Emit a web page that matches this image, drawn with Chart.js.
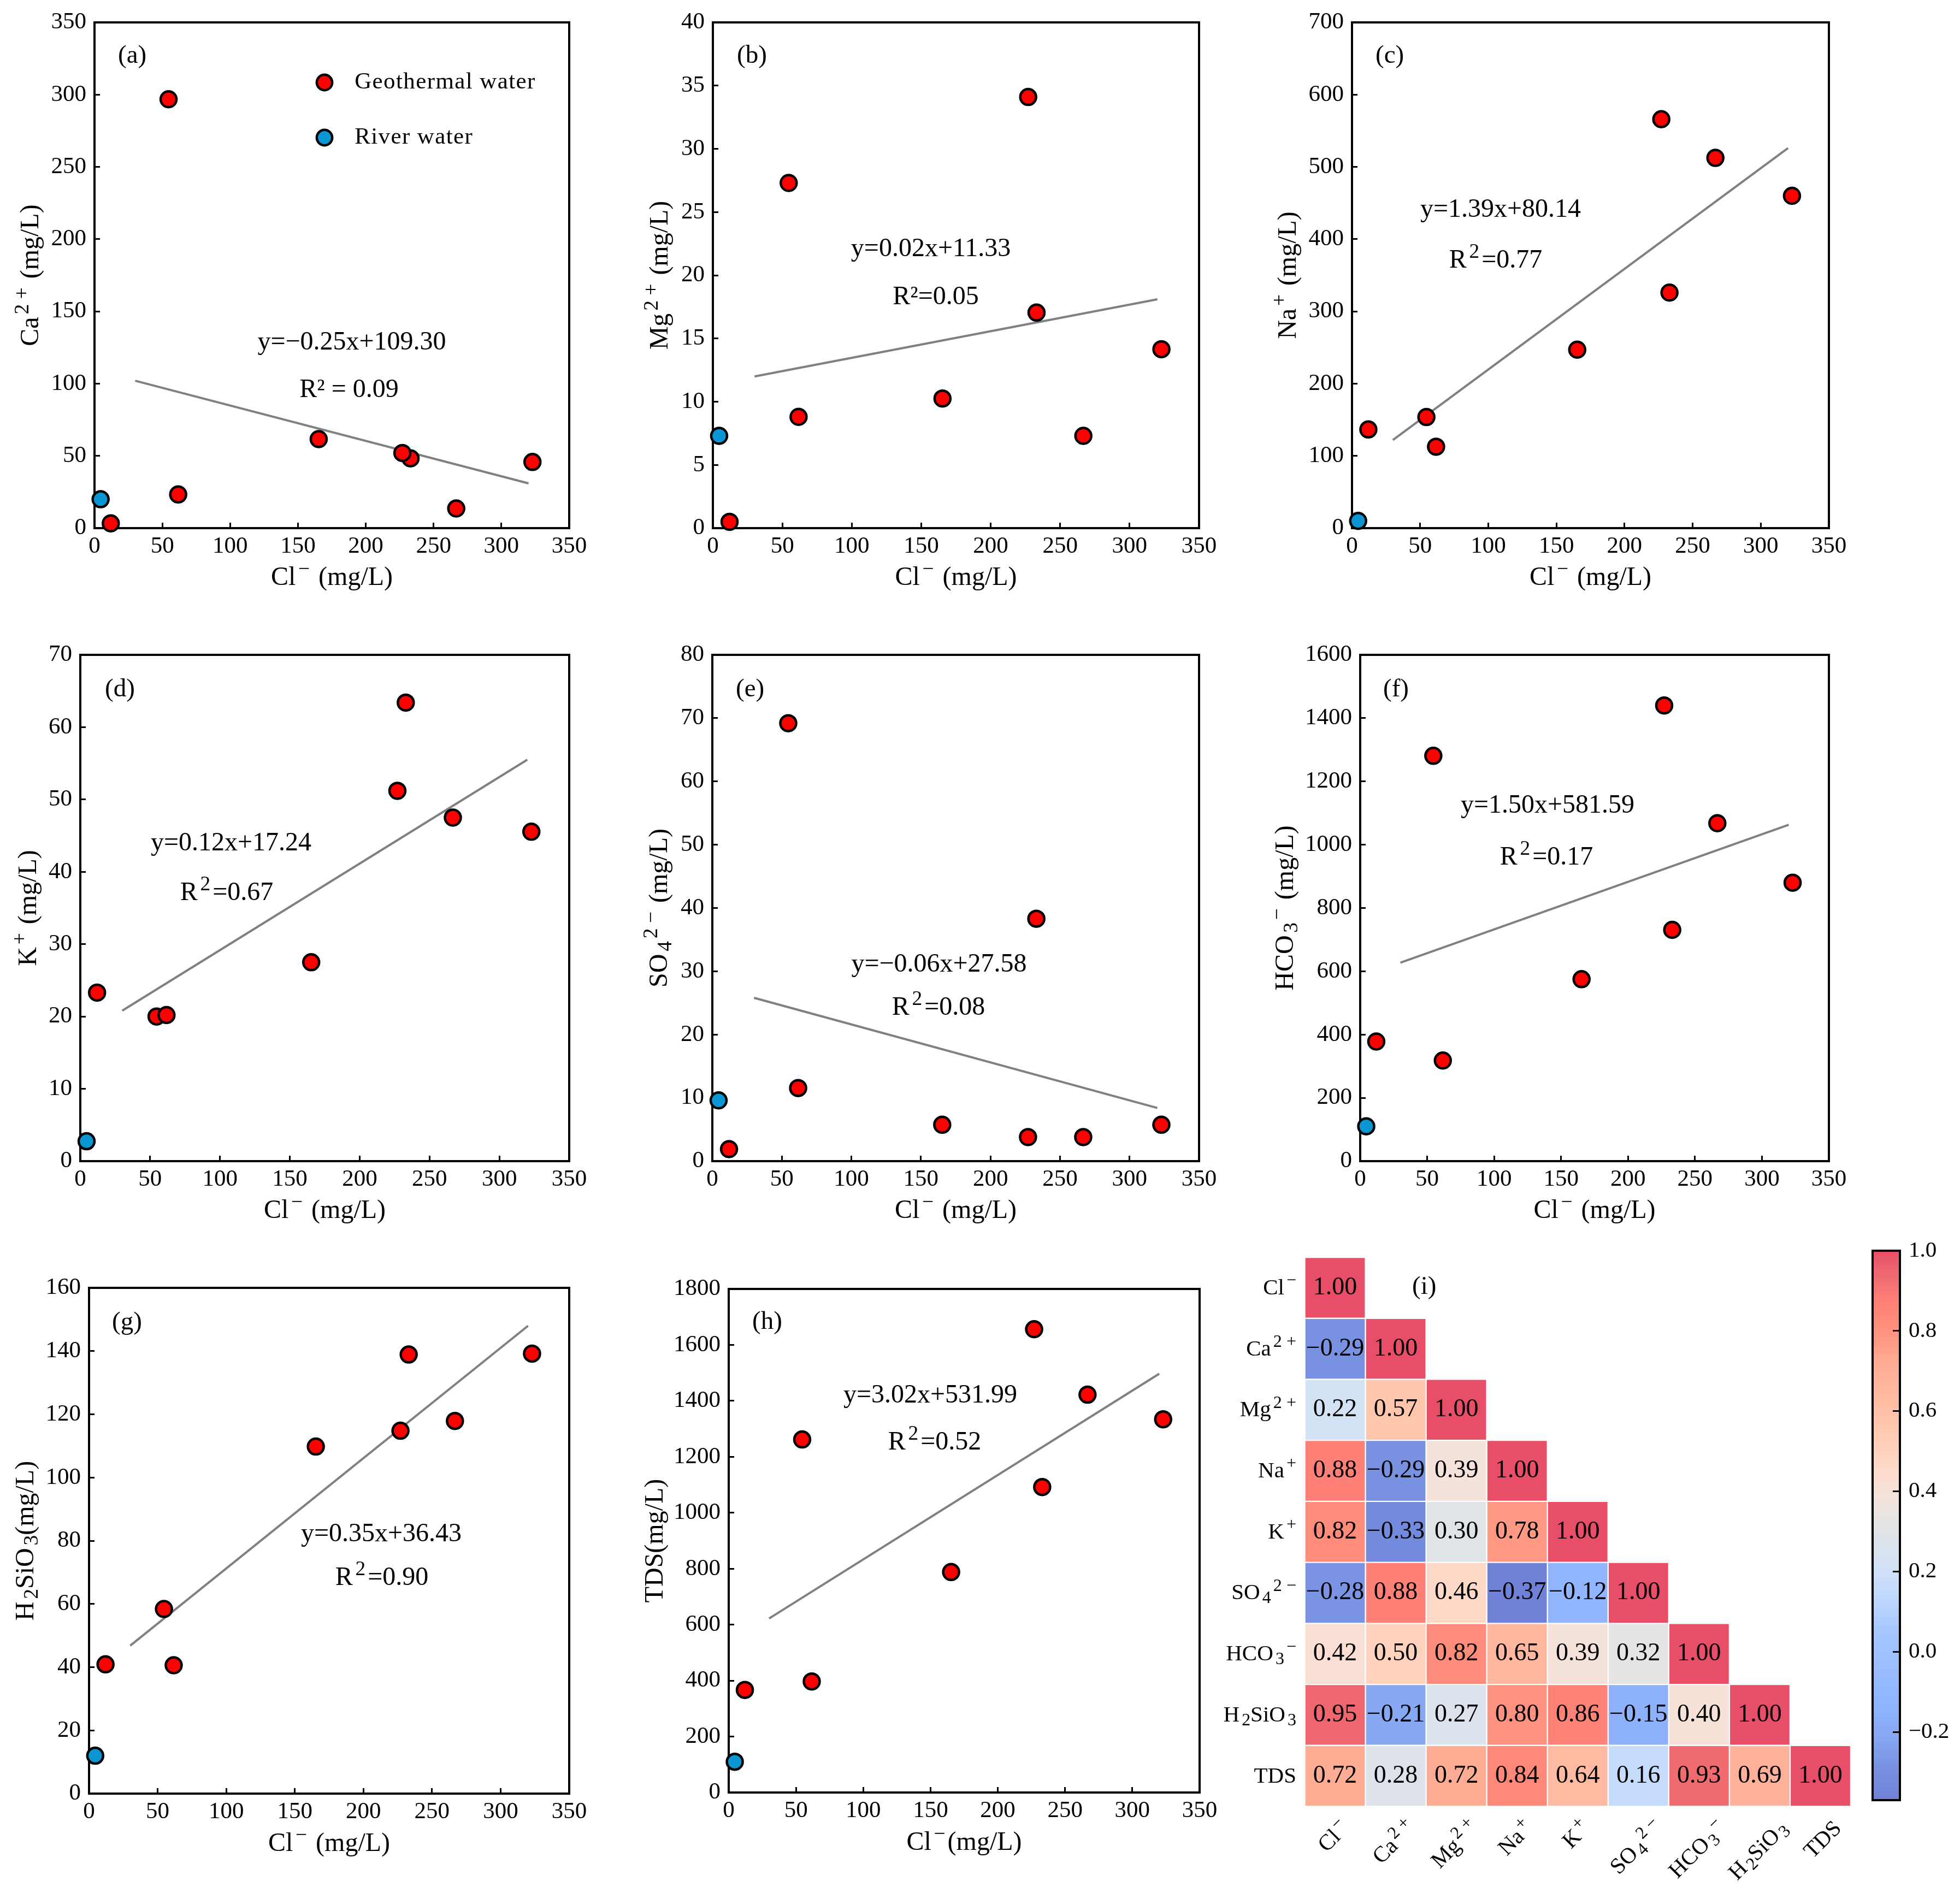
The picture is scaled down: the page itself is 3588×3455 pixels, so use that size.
<!DOCTYPE html>
<html><head><meta charset="utf-8">
<script src="https://cdn.jsdelivr.net/npm/chart.js@4"></script>
<style>html,body{margin:0;background:#fff}canvas{position:absolute;left:0;top:0}</style>
</head><body>
<script>
// ---------- data ----------
const clValues   = [12, 54.6, 61.7, 165.3, 233, 227, 266.7, 322.9];
const riverCl    = [4.5];
const caValues   = [3.3, 296.8, 23.3, 61.6, 48.3, 52, 13.6, 45.8];
const mgValues   = [0.5, 27.3, 8.8, 10.25, 17.05, 34.1, 7.3, 14.15];
const naValues   = [136.6, 153.8, 112.7, 247, 326, 566, 512.5, 460];
const kValues    = [23.3, 20, 20.2, 27.5, 63.4, 51.2, 47.5, 45.55];
const so4Values  = [1.9, 69.2, 11.55, 5.75, 38.3, 3.8, 3.8, 5.75];
const hco3Values = [378, 1281, 318, 575, 731, 1440, 1068, 880];
const h2sio3Values = [40.9, 58.4, 40.6, 109.8, 138.9, 114.8, 117.9, 139.2];
const tdsValues  = [366.7, 1262, 397, 788, 1092, 1656, 1422, 1334];
const riverValues = {a:[20], b:[7.3], c:[10], d:[2.75], e:[9.6], f:[110], g:[12], h:[110]};
const trendX     = [30, 320];
const trendY     = {a:[102,31], b:[12,18.1], c:[122,526], d:[20.8,55.5], e:[25.8,8.4], f:[627,1063], g:[46.8,148], h:[622,1497]};
const seriesNames = ['Geothermal water', 'River water'];
const xTickStep = 50, xMax = 350;
const heatLabels = ['Cl{^−}','Ca{^2}{^+}','Mg{^2}{^+}','Na{^+}','K{^+}','SO{_4}{^2}{^−}','HCO{_3}{^−}','H{_2}SiO{_3}','TDS'];
const corrRows = [
 [1.00],
 [-0.29,1.00],
 [0.22,0.57,1.00],
 [0.88,-0.29,0.39,1.00],
 [0.82,-0.33,0.30,0.78,1.00],
 [-0.28,0.88,0.46,-0.37,-0.12,1.00],
 [0.42,0.50,0.82,0.65,0.39,0.32,1.00],
 [0.95,-0.21,0.27,0.80,0.86,-0.15,0.40,1.00],
 [0.72,0.28,0.72,0.84,0.64,0.16,0.93,0.69,1.00]
];
const cbarMin = -0.37, cbarMax = 1, cbarTicks = [-0.2,0,0.2,0.4,0.6,0.8,1];

// ---------- colour map ----------
const cmapStops = [[-0.37,112,130,215],[-0.29,120,145,225],[-0.21,135,168,242],[-0.12,145,182,255],[0.05,165,198,255],[0.16,198,220,252],[0.22,212,226,245],[0.32,228,228,228],[0.39,245,227,219],[0.46,255,217,200],[0.57,255,198,172],[0.72,255,172,148],[0.82,255,140,122],[0.88,255,128,118],[0.93,240,108,112],[0.95,238,102,110],[1,233,78,104]];
function cmap(v){
  for(let i=1;i<cmapStops.length;i++){
    const a=cmapStops[i-1],b=cmapStops[i];
    if(v<=b[0]){const t=Math.max(0,(v-a[0])/(b[0]-a[0]));
      return `rgb(${[1,2,3].map(k=>Math.round(a[k]+(b[k]-a[k])*t)).join(',')})`;}
  }
  return 'rgb(233,78,104)';
}

// ---------- helpers ----------
const SERIF='"Liberation Serif"';
Chart.defaults.font.family=SERIF;
Chart.defaults.color='#000';
const W=3588,H=3455,YW=120,XH=60;
function newCanvas(){const c=document.createElement('canvas');c.width=W;c.height=H;c.style.width=W+'px';c.style.height=H+'px';document.body.appendChild(c);return c.getContext('2d');}
function parseRich(s){return s.split(/(\{[\^_][^}]*\})/).filter(Boolean).map(p=>p[0]==='{'?{t:p.slice(2,-1),k:p[1]}:{t:p,k:''});}
function richLayout(ctx,s,size){
  let x=0,prev='';const out=[];
  for(const seg of parseRich(s)){
    const sc=seg.k?0.78:1;
    ctx.font=`${size*sc}px ${SERIF}`;
    if(seg.k==='^'||seg.k==='_') x+=size*(prev==='^'?0.2:0.1);
    else if(prev==='^') x+=size*0.08;
    out.push({t:seg.t,x,size:size*sc,dy:seg.k==='^'?-size*0.38:seg.k==='_'?size*0.17:0});
    x+=ctx.measureText(seg.t).width;prev=seg.k;
  }
  return {segs:out,w:x};
}
// anchor: 'c' centre, 'r' right, 'l' left
function drawRich(ctx,s,x,y,size,rot,anchor){
  ctx.save();ctx.translate(x,y);ctx.rotate(rot||0);ctx.fillStyle='#000';ctx.textBaseline='alphabetic';ctx.textAlign='left';
  const L=richLayout(ctx,s,size);const x0=anchor==='r'?-L.w:anchor==='l'?0:-L.w/2;
  for(const g of L.segs){ctx.font=`${g.size}px ${SERIF}`;ctx.fillText(g.t,x0+g.x,g.dy);}
  ctx.restore();
}

// ---------- scatter panels ----------
const panels=[
 {id:'a',L:173,R:1042,T:41,B:967,yMax:350,yStep:50,ys:caValues,yTitle:'Ca{^2}{^+} (mg/L)',yBase:70,xBase:1071,xTitle:'Cl{^−} (mg/L)',
  tag:[216,115],eq:['y=−0.25x+109.30',644,640],r2:['R² = 0.09',639,727]},
 {id:'b',L:1305,R:2195,T:41,B:967,yMax:40,yStep:5,ys:mgValues,yTitle:'Mg{^2}{^+} (mg/L)',yBase:1222,xBase:1071,xTitle:'Cl{^−} (mg/L)',
  tag:[1349,115],eq:['y=0.02x+11.33',1704,469],r2:['R²=0.05',1713,557]},
 {id:'c',L:2475,R:3348,T:41,B:967,yMax:700,yStep:100,ys:naValues,yTitle:'Na{^+} (mg/L)',yBase:2372,xBase:1071,xTitle:'Cl{^−} (mg/L)',
  tag:[2518,115],eq:['y=1.39x+80.14',2747,397],r2:['R{^2}=0.77',2738,490]},
 {id:'d',L:147,R:1042,T:1199,B:2126,yMax:70,yStep:10,ys:kValues,yTitle:'K{^+} (mg/L)',yBase:66,xBase:2230,xTitle:'Cl{^−} (mg/L)',
  tag:[192,1275],eq:['y=0.12x+17.24',423,1557],r2:['R{^2}=0.67',415,1648]},
 {id:'e',L:1304,R:2195,T:1199,B:2126,yMax:80,yStep:10,ys:so4Values,yTitle:'SO{_4}{^2}{^−} (mg/L)',yBase:1221,xBase:2230,xTitle:'Cl{^−} (mg/L)',
  tag:[1347,1275],eq:['y=−0.06x+27.58',1719,1779],r2:['R{^2}=0.08',1718,1858]},
 {id:'f',L:2490,R:3348,T:1199,B:2126,yMax:1600,yStep:200,ys:hco3Values,yTitle:'HCO{_3}{^−} (mg/L)',yBase:2367,xBase:2230,xTitle:'Cl{^−} (mg/L)',
  tag:[2532,1275],eq:['y=1.50x+581.59',2833,1488],r2:['R{^2}=0.17',2831,1583]},
 {id:'g',L:163,R:1042,T:2358,B:3284,yMax:160,yStep:20,ys:h2sio3Values,yTitle:'H{_2}SiO{_3}(mg/L)',yBase:61,xBase:3389,xTitle:'Cl{^−} (mg/L)',
  tag:[205,2434],eq:['y=0.35x+36.43',698,2822],r2:['R{^2}=0.90',699,2902]},
 {id:'h',L:1334,R:2196,T:2360,B:3282,yMax:1800,yStep:200,ys:tdsValues,yTitle:'TDS(mg/L)',yBase:1213,xBase:3387,xTitle:'Cl{^−}(mg/L)',
  tag:[1377,2433],eq:['y=3.02x+531.99',1703,2568],r2:['R{^2}=0.52',1711,2654]}
];

function makePanel(p){
  const ctx=newCanvas();
  const pts=(xs,ys)=>xs.map((x,i)=>({x,y:ys[i]}));
  const marker=(label,data,color)=>({type:'scatter',label,data,backgroundColor:color,borderColor:'#000',borderWidth:4.5,pointRadius:14.5,pointHoverRadius:14.5,pointStyle:'circle',clip:false});
  const axisBase={border:{display:true,width:4,color:'#000'},
    grid:{drawOnChartArea:false,drawTicks:true,tickLength:-10,tickWidth:3,tickColor:'#000'}};
  const frame={id:'frame',beforeDatasetsDraw(c){const a=c.chartArea,x=c.ctx;x.save();x.lineWidth=4;x.strokeStyle='#000';x.strokeRect(a.left,a.top,a.right-a.left,a.bottom-a.top);x.restore();},
    afterLayout(c){
      if(!c.legend||p.id!=='a')return;
      const lg=c.legend,h=lg.height;
      lg.left=594-21.5-lg.options.labels.padding;lg.right=lg.left+lg.width+80;
      lg.top=151-21.5-lg.options.labels.padding;lg.bottom=lg.top+h+40;
      if(!lg._ls){lg._ls=true;const d=lg.draw;lg.draw=function(){c.ctx.save();c.ctx.letterSpacing='1.4px';d.apply(this,arguments);c.ctx.restore();};}
    },
    afterDraw(c){
      const x=c.ctx;
      drawRich(x,p.yTitle,p.yBase,(p.T+p.B)/2,48,-Math.PI/2,'c');
      drawRich(x,p.xTitle,(p.L+p.R)/2,p.xBase,48,0,'c');
      drawRich(x,'('+p.id+')',p.tag[0],p.tag[1],47,0,'l');
      drawRich(x,p.eq[0],p.eq[1],p.eq[2],48,0,'c');
      drawRich(x,p.r2[0],p.r2[1],p.r2[2],48,0,'c');
    }};
  new Chart(ctx,{type:'scatter',
    data:{datasets:[
      marker(seriesNames[0],pts(clValues,p.ys),'#ff0000'),
      marker(seriesNames[1],pts(riverCl,riverValues[p.id]),'#0a96d2'),
      {type:'scatter',label:'Fit',data:pts(trendX,trendY[p.id]),showLine:true,borderColor:'#808080',borderWidth:4,pointRadius:0,clip:false,fill:false}
    ]},
    options:{responsive:false,animation:false,devicePixelRatio:1,
      layout:{autoPadding:false,padding:{left:p.L-YW,right:W-p.R,top:p.T,bottom:H-p.B-XH}},
      plugins:{title:{display:false},tooltip:{enabled:false},
        legend:{display:p.id==='a',position:'chartArea',align:'start',
          labels:{usePointStyle:true,boxWidth:43,boxHeight:20,padding:58,font:{size:43,family:SERIF},color:'#000',
            filter:i=>i.datasetIndex<2,
            generateLabels(c){return Chart.defaults.plugins.legend.labels.generateLabels(c).map(l=>({...l,text:' '+l.text}));}}}},
      scales:{
        x:{type:'linear',min:0,max:xMax,...axisBase,afterFit(s){s.height=XH;s.paddingLeft=0;s.paddingRight=0;},
           ticks:{stepSize:xTickStep,padding:18,maxRotation:0,autoSkip:false,font:{size:43},callback:v=>String(v)}},
        y:{type:'linear',min:0,max:p.yMax,...axisBase,afterFit(s){s.width=YW;s.paddingTop=0;s.paddingBottom=0;},
           ticks:{stepSize:p.yStep,padding:25,autoSkip:false,font:{size:43},callback:v=>String(v)}}
      }},
    plugins:[frame]});
}
panels.forEach(makePanel);

// ---------- heat map ----------
(function(){
  const L=2388.5,R=3388,T=2302,B=3307.5;
  const ctx=newCanvas();
  const cols=heatLabels.map((_,i)=>i);
  const datasets=corrRows.map((row,i)=>({
    label:heatLabels[i],grouped:false,
    data:cols.map(j=>j<row.length?[i,i+1]:null),
    backgroundColor:cols.map(j=>j<row.length?cmap(row[j]):'transparent'),
    borderColor:'rgba(255,255,255,0.8)',borderWidth:1.5,borderSkipped:false,
    barPercentage:1,categoryPercentage:1
  }));
  const cellText={id:'cellText',afterDraw(c){
    const x=c.ctx;x.save();x.textAlign='center';x.textBaseline='alphabetic';x.fillStyle='#000';x.font=`46px ${SERIF}`;
    corrRows.forEach((row,i)=>{const els=c.getDatasetMeta(i).data;row.forEach((v,j)=>{
      const e=els[j];const cy=(c.scales.y.getPixelForValue(i)+c.scales.y.getPixelForValue(i+1))/2;
      x.fillText(v.toFixed(2).replace('-','−'),e.x,cy+12);});});
    x.restore();
    heatLabels.forEach((s,i)=>{
      const cy=(c.scales.y.getPixelForValue(i)+c.scales.y.getPixelForValue(i+1))/2;
      drawRich(x,s,2373,cy+12,41,0,'r');
      const cx=c.scales.x.getPixelForValue(i);
      const w=richLayout(x,s,41).w;
      const dy=(w*Math.SQRT1_2+41*0.8*Math.SQRT1_2)/2;
      drawRich(x,s,cx+(s==='TDS'?13:6),3322+dy+16,41,-Math.PI/4,'c');
    });
    drawRich(x,'(i)',2585,2369,47,0,'l');
  }};
  new Chart(ctx,{type:'bar',data:{labels:heatLabels,datasets},
    options:{responsive:false,animation:false,devicePixelRatio:1,
      layout:{autoPadding:false,padding:{left:L,right:W-R,top:T,bottom:H-B}},
      plugins:{legend:{display:false},tooltip:{enabled:false}},
      scales:{x:{type:'category',display:false,stacked:false},
              y:{type:'linear',display:false,min:0,max:heatLabels.length,reverse:true}}},
    plugins:[cellText]});
})();

// ---------- colour bar ----------
(function(){
  const L=3428,R=3478,T=2290,B=3296,AW=100;
  const ctx=newCanvas();
  const fill=(c)=>{const a=c.chart.chartArea;if(!a)return '#fff';
    const g=c.chart.ctx.createLinearGradient(0,a.bottom,0,a.top);
    cmapStops.forEach(s=>g.addColorStop((s[0]-cbarMin)/(cbarMax-cbarMin),cmap(s[0])));return g;};
  new Chart(ctx,{type:'bar',data:{labels:['r'],datasets:[{label:'r',data:[[cbarMin,cbarMax]],backgroundColor:fill,borderWidth:0,barPercentage:1,categoryPercentage:1}]},
    options:{responsive:false,animation:false,devicePixelRatio:1,
      layout:{autoPadding:false,padding:{left:L,right:W-R-AW,top:T,bottom:H-B}},
      plugins:{legend:{display:false},tooltip:{enabled:false}},
      scales:{x:{display:false},
        y:{position:'right',min:cbarMin,max:cbarMax,afterFit(s){s.width=AW;s.paddingTop=0;s.paddingBottom=0;},
           afterBuildTicks(s){s.ticks=cbarTicks.map(v=>({value:v}));},
           border:{display:true,width:3,color:'#000',z:2},
           grid:{drawOnChartArea:false,tickLength:-13,tickWidth:3,tickColor:'#000',z:2},
           ticks:{padding:29,autoSkip:false,font:{size:41},callback:v=>v.toFixed(1).replace('-','−')}}}},
    plugins:[{id:'cbFrame',afterDatasetsDraw(c){const a=c.chartArea,x=c.ctx;x.save();x.lineWidth=4;x.strokeStyle='#000';x.strokeRect(a.left,a.top,a.right-a.left,a.bottom-a.top);x.restore();}}]});
})();
</script>
</body></html>
